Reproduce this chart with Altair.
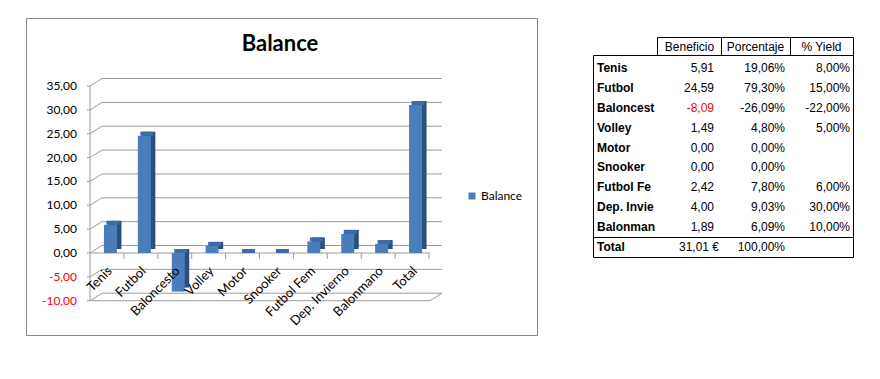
import altair as alt
import pandas as pd

# ---------------- data ----------------
categorias = ["Tenis", "Futbol", "Baloncesto", "Volley", "Motor", "Snooker",
              "Futbol Fem", "Dep. Invierno", "Balonmano", "Total"]
balance = [5.91, 24.59, -8.09, 1.49, 0.00, 0.00, 2.42, 4.00, 1.89, 31.01]
porcentaje = [19.06, 79.30, -26.09, 4.80, 0.00, 0.00, 7.80, 9.03, 6.09, 100.00]
rendimiento = [8.00, 15.00, -22.00, 5.00, None, None, 6.00, 30.00, 10.00, None]
ticks_y = [-10, -5, 0, 5, 10, 15, 20, 25, 30, 35]
encabezados = ["Beneficio", "Porcentaje", "% Yield"]
titulo = "Balance"
serie = "Balance"

FONT = "Lato"
TFONT = "Liberation Sans"
FRONT = "#4A7EBB"
TOPC = "#3E6BA3"
SIDE = "#2C4E7C"
GRID = "#9C9C9C"


def es(v):
    return f"{v:.2f}".replace(".", ",")


def px(v):
    return v - 8


df = pd.DataFrame({"cat": categorias, "value": balance, "serie": serie})
df["top"] = df["value"].clip(lower=0)
df["zero"] = 0.0

tdf = pd.DataFrame({"t": ticks_y, "lab": [es(t) for t in ticks_y]})

tabla = pd.DataFrame({
    "row": list(range(len(categorias))),
    "name": categorias,
    "valor": balance,
    "ben": [es(v) for v in balance],
    "por": [es(p) + "%" for p in porcentaje],
    "yld": [es(y) + "%" if y is not None else "" for y in rendimiento],
})
tabla.loc[len(categorias) - 1, "ben"] = es(balance[-1]) + " €"

one = pd.DataFrame({"k": [0]})


def line(x1, y1, x2, y2, color, w=1):
    return alt.Chart(one).mark_rule(color=color, strokeWidth=w).encode(
        x=alt.value(px(x1)), x2=alt.value(px(x2)),
        y=alt.value(px(y1)), y2=alt.value(px(y2)))


def label(txt, x, y, **kw):
    return alt.Chart(one).mark_text(text=txt, **kw).encode(
        x=alt.value(px(x)), y=alt.value(px(y)))


XS = alt.Scale(domain=categorias, range=[82, 421], paddingInner=0, paddingOuter=0)
YS = alt.Scale(domain=[-10, 35], range=[292.7, 78], nice=False, zero=False)
X = alt.X("cat:N", sort=categorias, scale=XS, axis=None)
BAND = 339 / len(categorias)
DX, DY = 12, -7.5

# ---------------- chart part ----------------
border = [
    line(26.5, 18.5, 537.5, 18.5, "#888888"),
    line(26.5, 335.5, 537.5, 335.5, "#888888"),
    line(26.5, 18.5, 26.5, 335.5, "#888888"),
    line(537.5, 18.5, 537.5, 335.5, "#888888"),
]

title = label(titulo, 280, 44, font=FONT, fontSize=22, fontWeight="bold",
              align="center", baseline="middle", color="black")

tk = alt.Chart(tdf)
TY = alt.Y("t:Q", scale=YS, axis=None)
grid_back = tk.mark_rule(color=GRID, yOffset=DY).encode(
    x=alt.value(82 + DX), x2=alt.value(422 + DX), y=TY)
grid_diag = tk.mark_rule(color=GRID, y2Offset=DY).encode(
    x=alt.value(82), x2=alt.value(82 + DX), y=TY, y2=alt.Y2("t:Q"))
left_ticks = tk.mark_rule(color=GRID).encode(
    x=alt.value(79), x2=alt.value(82), y=TY)
axis_line = tk.mark_rule(color=GRID).encode(
    x=alt.value(82), y=alt.Y("min(t):Q", scale=YS, axis=None), y2=alt.Y2("max(t):Q"))
floors = tk.transform_filter("datum.t == 0 || datum.t == -10").mark_rule(color=GRID).encode(
    x=alt.value(82), x2=alt.value(422), y=TY)
floor_right = tk.transform_filter("datum.t == -10").mark_rule(color=GRID, y2Offset=DY).encode(
    x=alt.value(422), x2=alt.value(422 + DX), y=TY, y2=alt.Y2("t:Q"))

bc = alt.Chart(df)
ZY = alt.Y("zero:Q", scale=YS, axis=None)
cat_ticks = bc.mark_rule(color=GRID, xOffset=BAND / 2, y2Offset=6).encode(
    x=X, y=ZY, y2=alt.Y2("zero:Q"))

bars_side = bc.mark_bar(
    color=SIDE, size=13, xOffset=3.5 + 4.5, yOffset=-4, y2Offset=-4).encode(
    x=X, y=alt.Y("value:Q", scale=YS, axis=None), y2=alt.Y2("zero:Q"))
bars_top = bc.mark_bar(
    color=TOPC, size=13, xOffset=3.5 + 2.5, yOffset=-4).encode(
    x=X, y=alt.Y("top:Q", scale=YS, axis=None), y2=alt.Y2("top:Q"))
bars_front = bc.mark_bar(size=13, xOffset=3.5).encode(
    x=X, y=alt.Y("value:Q", scale=YS, axis=None), y2=alt.Y2("zero:Q"),
    color=alt.Color("serie:N", scale=alt.Scale(range=[FRONT]),
                    legend=alt.Legend(orient="none", legendX=458, legendY=182,
                                      title=None, symbolType="square",
                                      symbolSize=49, symbolStrokeWidth=0,
                                      labelOffset=3,
                                      labelFont=FONT, labelFontSize=12,
                                      labelColor="black", padding=0)))

y_labels = tk.mark_text(align="right", baseline="middle", font=FONT, fontSize=12).encode(
    x=alt.value(px(77)), y=TY, text="lab:N",
    color=alt.condition("datum.t < 0", alt.value("#FF0000"), alt.value("black")))

x_labels = bc.mark_text(
    angle=315, align="right", baseline="middle", font=FONT, fontSize=13,
    color="black", xOffset=3, yOffset=16).encode(
    x=X, y=ZY, text="cat:N")

# ---------------- table part ----------------
RS = alt.Scale(domain=[0, 9], range=[px(68), px(247)], nice=False, zero=False)
RY = alt.Y("row:Q", scale=RS, axis=None)
tb = alt.Chart(tabla)

t_lines = [
    line(657.5, 37.5, 853.5, 37.5, "black"),
    line(593.5, 55.5, 853.5, 55.5, "black"),
    line(657.5, 37.5, 657.5, 55.5, "black"),
    line(721.5, 37.5, 721.5, 55.5, "black"),
    line(790.5, 37.5, 790.5, 55.5, "black"),
    line(593.5, 55.5, 593.5, 257.5, "black"),
    line(853.5, 37.5, 853.5, 257.5, "black"),
    line(593.5, 237.5, 853.5, 237.5, "black"),
    line(593.5, 257.5, 853.5, 257.5, "black"),
]

hdr = [
    label(encabezados[0], 689.5, 46.5, font=TFONT, fontSize=12, align="center",
          baseline="middle", color="black"),
    label(encabezados[1], 755.5, 46.5, font=TFONT, fontSize=12, align="center",
          baseline="middle", color="black"),
    label(encabezados[2], 821.5, 46.5, font=TFONT, fontSize=12, align="center",
          baseline="middle", color="black"),
]

names = tb.mark_text(font=TFONT, fontSize=12, fontWeight="bold", align="left",
                     baseline="middle", color="black", limit=60,
                     ellipsis="\u200b").encode(
    x=alt.value(px(597)), y=RY, text="name:N")
ben = tb.transform_filter("datum.row < 9").mark_text(
    font=TFONT, fontSize=12, align="right", baseline="middle").encode(
    x=alt.value(px(714)), y=RY, text="ben:N",
    color=alt.condition("datum.valor < 0", alt.value("#FF0000"), alt.value("black")))
ben_total = tb.transform_filter("datum.row == 9").mark_text(
    font=TFONT, fontSize=12, align="right", baseline="middle", color="black").encode(
    x=alt.value(px(719)), y=RY, text="ben:N")
por = tb.mark_text(font=TFONT, fontSize=12, align="right", baseline="middle",
                   color="black").encode(x=alt.value(px(785)), y=RY, text="por:N")
yld = tb.mark_text(font=TFONT, fontSize=12, align="right", baseline="middle",
                   color="black").encode(x=alt.value(px(850)), y=RY, text="yld:N")

chart = alt.layer(
    *border, title, grid_back, grid_diag, left_ticks, axis_line, floors,
    floor_right, cat_ticks, bars_side, bars_top, bars_front, y_labels, x_labels,
    *t_lines, *hdr, names, ben, ben_total, por, yld
).resolve_scale(y="independent").properties(
    width=864, height=363, autosize="none", padding=0
).configure_view(strokeWidth=0)

chart.save("out.html", embed_options={"renderer": "svg", "actions": False})
